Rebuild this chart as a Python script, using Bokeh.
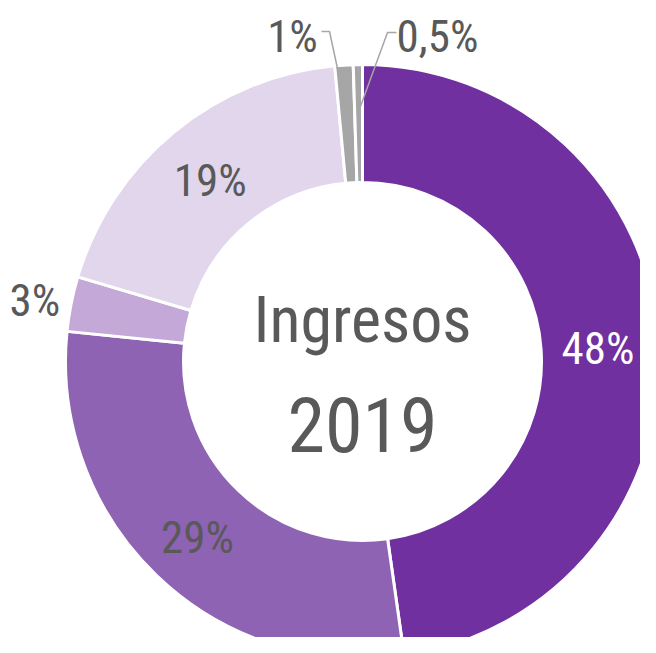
import math
from bokeh.plotting import figure
from bokeh.models import Range1d, ColumnDataSource
from bokeh.core.properties import value
from bokeh.embed import file_html
from bokeh.resources import INLINE

categories = ["A", "B", "C", "D", "E", "F"]
shares = [48, 29, 3, 19, 1, 0.5]
labels = ["48%", "29%", "3%", "19%", "1%", "0,5%"]
colors = ["#7030A0", "#8E63B3", "#C3A8D8", "#E1D6EC", "#A6A6A6", "#A6A6A6"]
label_colors = ["#FFFFFF", "#595959", "#595959", "#595959", "#595959", "#595959"]
center_title = ["Ingresos", "2019"]

FONT = "Roboto Condensed, DejaVu Sans Condensed, sans-serif"
CX, CY = 362, -361
R_OUT, R_IN = 297, 179

p = figure(width=640, height=637, output_backend="svg", toolbar_location=None,
           x_range=Range1d(0, 640), y_range=Range1d(-637, 0),
           x_axis_type=None, y_axis_type=None, min_border=0)
p.grid.visible = False
p.outline_line_color = None
p.background_fill_color = "white"

total = sum(shares)
starts, ends, mids = [], [], []
acc = 0.0
for s in shares:
    a0 = acc / total * 2 * math.pi
    acc += s
    a1 = acc / total * 2 * math.pi
    starts.append(math.pi / 2 - a0)
    ends.append(math.pi / 2 - a1)
    mids.append((a0 + a1) / 2)

src = ColumnDataSource(dict(cat=categories, start=starts, end=ends, color=colors))
p.annular_wedge(x=CX, y=CY, inner_radius=R_IN, outer_radius=R_OUT,
                start_angle="start", end_angle="end", direction="clock",
                fill_color="color", line_color="white", line_width=3, source=src)

# inside / outside labels
lab_r = [236, 238, 334, 240]
lx, ly, lt, lc = [], [], [], []
for i in range(4):
    lx.append(CX + lab_r[i] * math.sin(mids[i]))
    ly.append(CY + lab_r[i] * math.cos(mids[i]) - 4)
    lt.append(labels[i])
    lc.append(label_colors[i])
p.text(x=lx, y=ly, text=lt, text_color=lc, text_font=value(FONT),
       text_font_size="45px", text_align="center", text_baseline="middle")

# small slices with leader lines
small = [(4, (292, -36), [(321, -31), (329, -31)]),
         (5, (437, -36), [(396, -32), (387, -32)])]
for idx, (tx, ty), pts in small:
    ex = CX + 250 * math.sin(mids[idx])
    ey = CY + 250 * math.cos(mids[idx])
    xs = [pts[0][0], pts[1][0], ex]
    ys = [pts[0][1], pts[1][1], ey]
    p.line(xs, ys, line_color="#A6A6A6", line_width=1.5)
    p.text(x=[tx], y=[ty], text=[labels[idx]], text_color=label_colors[idx],
           text_font=value(FONT), text_font_size="45px",
           text_align="center", text_baseline="middle")

p.text(x=[CX], y=[CY + 41], text=[center_title[0]], text_color="#595959",
       text_font=value(FONT), text_font_size="64px",
       text_align="center", text_baseline="middle")
p.text(x=[CX], y=[CY - 63], text=[center_title[1]], text_color="#595959",
       text_font=value(FONT), text_font_size="76px",
       text_align="center", text_baseline="middle")

open("out.html", "w").write(file_html(p, INLINE))
